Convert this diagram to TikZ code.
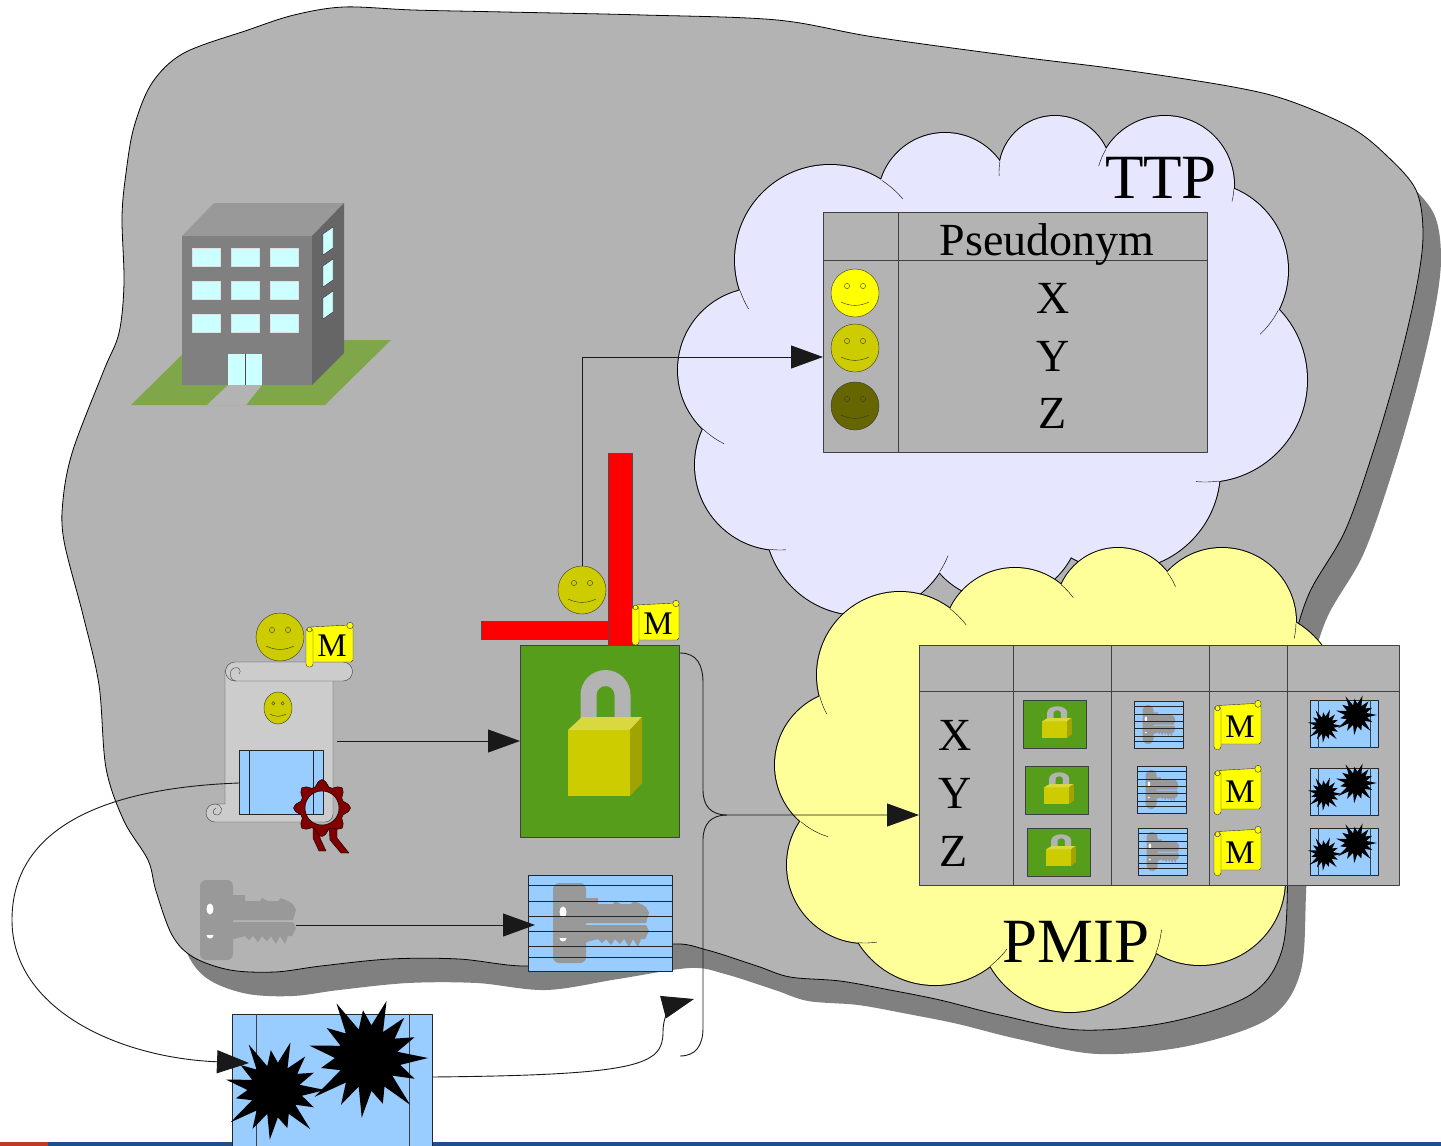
\documentclass[tikz,border=0pt]{standalone}
\usepackage{fontspec}
\setmainfont{Liberation Serif}
\usetikzlibrary{arrows.meta}

\definecolor{landgray}{HTML}{B3B3B3}
\definecolor{landshadow}{HTML}{808080}
\definecolor{ttpfill}{HTML}{E6E6FF}
\definecolor{pmipfill}{HTML}{FFFF99}
\definecolor{lockgreen}{HTML}{579D1C}
\definecolor{paleblue}{HTML}{99CCFF}
\definecolor{faceA}{HTML}{FFFF00}
\definecolor{faceB}{HTML}{CCCC00}
\definecolor{faceC}{HTML}{666600}
\definecolor{padfront}{HTML}{CCCC00}
\definecolor{padtop}{HTML}{D9D93F}
\definecolor{padside}{HTML}{A3A300}
\definecolor{keygray}{HTML}{999999}
\definecolor{paper}{HTML}{CCCCCC}
\definecolor{sealred}{HTML}{800000}
\definecolor{grass}{HTML}{7FA74A}
\definecolor{glass}{HTML}{CCFFFF}
\definecolor{roofgray}{HTML}{999999}
\definecolor{frontgray}{HTML}{808080}
\definecolor{sidegray}{HTML}{666666}
\definecolor{footblue}{HTML}{1F4E8A}
\definecolor{footred}{HTML}{C0392B}
\definecolor{rule}{HTML}{404040}

% outline of the grey land mass
\newcommand{\landpath}[1]{\path[#1] plot[smooth cycle, tension=0.55] coordinates {
 (152,83) (184,53) (248,30) (294,15) (344,7) (413,10) (505,12) (643,15) (777,20) (874,37)
 (1020,57) (1117,69) (1228,86) (1287,100) (1350,127) (1386,155) (1416,190) (1423,235)
 (1416,290) (1398,367) (1374,449) (1345,531) (1308,596) (1292,660) (1290,760) (1288,870)
 (1282,950) (1250,995) (1170,1022) (1080,1030) (1000,1015) (940,1000) (890,990) (840,981)
 (790,977) (757,966) (707,950) (672,944) (600,955) (528,966) (459,959) (390,959) (321,966)
 (275,972) (230,970) (193,957) (172,935) (156,891) (148,860) (124,821) (106,768) (99,685)
 (83,615) (64,541) (63,500) (73,450) (104,370) (119,333) (124,283) (122,217) (126,173) (134,127)};}

% smiling face: centre x, centre y, x radius, y radius, colour
\newcommand{\smileyface}[5]{%
 \begin{scope}[shift={(#1,#2)}, xscale=#3/24, yscale=#4/24]
  \draw[fill=#5, draw=black!80] (0,0) circle[radius=24];
  \draw[black!80] (-8,-7) circle[radius=2.6] (8,-7) circle[radius=2.6];
  \draw[black!80] (-14,9) .. controls (-5,13.5) and (5,13.5) .. (14,9);
 \end{scope}}

% yellow scroll flag with an M: left x, top y, vertical stretch
\newcommand{\mflag}[3]{%
 \begin{scope}[shift={(#1,#2)}, yscale=#3]
  \draw[fill=faceA, draw=black!80] (4,5) -- (44,3) -- (47,6) -- (47,38) -- (45,40) -- (6,40) -- cycle;
  \draw[fill=faceA, draw=black!80] (44,3.5) circle[radius=3.2];
  \draw[fill=faceA, draw=black!80, rounded corners=3] (0,6) rectangle (7,45);
  \draw[fill=faceA, draw=black!80] (3.5,7.5) circle[radius=2.4];
  \node[font=\fontsize{33}{33}\selectfont, anchor=base, inner sep=0pt] (mletter) at (26,34) {M};
 \end{scope}}

% black starburst: centre x, centre y, size
\newcommand{\burst}[3]{\fill[black, shift={(#1,#2)}, scale=#3]
 (0:1.0) -- (12:0.55) -- (24:0.85) -- (36:0.5) -- (48:1.05) -- (60:0.55) -- (72:0.8) -- (84:0.55)
 -- (96:1.0) -- (108:0.5) -- (120:0.9) -- (132:0.55) -- (144:1.1) -- (156:0.5) -- (168:0.8)
 -- (180:0.55) -- (192:1.0) -- (204:0.5) -- (216:0.85) -- (228:0.55) -- (240:1.05) -- (252:0.5)
 -- (264:0.8) -- (276:0.55) -- (288:1.0) -- (300:0.5) -- (312:0.9) -- (324:0.55) -- (336:0.85)
 -- (348:0.5) -- cycle;}

% green box with a padlock, 159 x 192
\newcommand{\lockart}{%
  \draw[fill=lockgreen, draw=rule] (0,0) rectangle (159,192);
  \fill[landgray] (60.5,80) -- (60.5,50) arc[start angle=180,end angle=360,radius=25]
     -- (110.5,80) -- (94.5,80) -- (94.5,50) arc[start angle=360,end angle=180,radius=9]
     -- (76.5,80) -- cycle;
  \fill[padfront] (48,85) rectangle (110,151);
  \fill[padtop] (48,85) -- (62,72) -- (122,72) -- (110,85) -- cycle;
  \fill[padside] (110,85) -- (122,72) -- (122,138) -- (110,151) -- cycle;}

% grey key, head corner at the origin
\newcommand{\keyart}{%
  \fill[keygray, rounded corners=6] (0,0) rectangle (33,80);
  \fill[keygray] (30,15) -- (45,15) -- (45,21) -- (60,21) -- (62,18) -- (68,21) -- (78,21)
     -- (81,18) -- (88,21) -- (93,24) -- (96,30) -- (93,40) -- (30,40) -- cycle;
  \fill[keygray] (30,42) -- (93,42) -- (96,48) -- (92,56) -- (88,56) -- (85,64) -- (80,56)
     -- (76,64) -- (71,56) -- (67,61) -- (62,56) -- (58,62) -- (53,56) -- (49,60) -- (45,56)
     -- (30,60) -- cycle;
  \fill[white] (10,29) ellipse[x radius=3.5, y radius=5.5];
  \fill[white] (6.5,55) -- (13.5,55) arc[start angle=0,end angle=180,radius=3.5] -- cycle;}

% ciphered key box, 144 x 96
\newcommand{\keyboxart}{%
  \fill[paleblue] (0,0) rectangle (144,96);
  \begin{scope}[shift={(25,8)}] \keyart \end{scope}
  \foreach \ly in {10,26,41,56,71,82} \draw[black!85] (0,\ly) -- (144,\ly);
  \draw[black!85] (0,0) rectangle (144,96);}

% blue document torn by bursts, 200 x 140
\newcommand{\brokenart}{%
  \draw[fill=paleblue, draw=black!85] (0,0) rectangle (200,140);
  \draw[rule] (24,0) -- (24,140) (177,0) -- (177,140);
  \burst{43}{76}{50}
  \burst{136}{44}{60}}

\begin{document}
\begin{tikzpicture}[x=1pt, y=-1pt, line join=round,
  conn/.style={draw=black!90, line width=0.9pt, -{Triangle[length=32pt,width=23pt]}},
  wire/.style={draw=black!90, line width=0.9pt},
  spot/.style={inner sep=0pt, outer sep=0pt},
  rulecol/.style={draw=rule, line width=1pt},
  bigtext/.style={font=\fontsize{63}{63}\selectfont, inner sep=0pt, anchor=base},
  celltext/.style={font=\fontsize{46}{46}\selectfont, inner sep=0pt, anchor=base}]
\useasboundingbox (0,0) rectangle (1441,1146);
\clip (0,0) rectangle (1441,1146);

% footer rule
\fill[footblue] (0,1142) rectangle (1441,1146);
\fill[footred] (0,1142) rectangle (48,1146);

% land mass with drop shadow
\landpath{fill=landshadow, shift={(18,24)}}
\landpath{fill=landgray, draw=black, line width=0.8pt}

% office building
\fill[grass] (131,405) -- (197,340) -- (391,340) -- (325,405) -- cycle;
\fill[landgray] (207,405) -- (228,385) -- (262,385) -- (246,405) -- cycle;
\fill[roofgray] (182,236) -- (214,203) -- (344,203) -- (312,236) -- cycle;
\fill[frontgray] (182,236) rectangle (312,385);
\fill[sidegray] (312,236) -- (344,203) -- (344,353) -- (312,385) -- cycle;
\foreach \wx in {192,231,270} \foreach \wy in {248,281,314}
  \draw[fill=glass, draw=black!12] (\wx,\wy) rectangle +(28,18);
\fill[glass] (228,354) rectangle (262,385);
\draw[black!70] (245,354) -- (245,385);
\foreach \sy in {0,32,64}
  \draw[fill=glass, draw=black!80] (323,234+\sy) -- (333,227+\sy) -- (333,248+\sy) -- (323,255+\sy) -- cycle;

% TTP cloud: lobes, body, inner curls
\foreach \cx/\cy/\r in {830/260/95, 945/200/67, 1055/172/56, 1165/185/69, 1200/270/88,
   1205/380/102, 1120/470/100, 1000/520/80, 860/520/95, 780/465/85, 760/370/82}
  \draw[fill=ttpfill, line width=2pt] (\cx,\cy) circle[radius=\r];
\foreach \cx/\cy/\r in {830/260/95, 945/200/67, 1055/172/56, 1165/185/69, 1200/270/88,
   1205/380/102, 1120/470/100, 1000/520/80, 860/520/95, 780/465/85, 760/370/82}
  \fill[ttpfill] (\cx,\cy) circle[radius=\r];
\fill[ttpfill] (990,360) ellipse[x radius=240, y radius=180];
\foreach \cx/\cy/\r/\ta/\tb in {830/260/95/-57/-40, 1055/172/56/191/176, 1165/185/69/211/196,
   1165/185/69/3/14, 1200/270/88/27/47, 1205/380/102/82/95, 860/520/95/33/22,
   780/465/85/97/86, 760/370/82/134/116, 830/260/95/161/149}
  \draw (\cx,\cy) ++(\ta:\r) arc[start angle=\ta, end angle=\tb, radius=\r];

% PMIP cloud: lobes, body, inner curls
\foreach \cx/\cy/\r in {900/675/83, 1015/640/72, 1118/610/62, 1222/622/74, 1250/700/90,
   1200/880/85, 1070/920/92, 935/895/90, 865/865/78, 850/765/75}
  \draw[fill=pmipfill, line width=2pt] (\cx,\cy) circle[radius=\r];
\foreach \cx/\cy/\r in {900/675/83, 1015/640/72, 1118/610/62, 1222/622/74, 1250/700/90,
   1200/880/85, 1070/920/92, 935/895/90, 865/865/78, 850/765/75}
  \fill[pmipfill] (\cx,\cy) circle[radius=\r];
\fill[pmipfill] (1080,780) ellipse[x radius=220, y radius=170];
\foreach \cx/\cy/\r/\ta/\tb in {900/675/83/-53/-37, 1015/640/72/-50/-36, 1118/610/62/-37/-22,
   1222/622/74/1/13, 900/675/83/165/152, 850/765/75/131/107, 865/865/78/95/81,
   935/895/90/52/37, 1070/920/92/21/6}
  \draw (\cx,\cy) ++(\ta:\r) arc[start angle=\ta, end angle=\tb, radius=\r];

% TTP pseudonym table
\node[spot, minimum width=384pt, minimum height=240pt] (ttptab) at (1015,332) {};
\draw[rulecol, fill=landgray] (ttptab.north west) rectangle (ttptab.south east);
\draw[rulecol] (898,212) -- (898,452) (823,260) -- (1207,260);
\node[celltext] (pseud) at (1047,255) {Pseudonym};
\node[celltext] (ttpx) at (1053,313) {X};
\node[celltext] (ttpy) at (1053,371) {Y};
\node[celltext] (ttpz) at (1053,428) {Z};
\smileyface{855}{293}{24}{24}{faceA}
\smileyface{855}{348}{24}{24}{faceB}
\smileyface{855}{406}{24}{24}{faceC}
\coordinate (ttpin) at (823,357);
\node[bigtext] (ttplabel) at (1161,198) {TTP};

% PMIP table
\node[spot, minimum width=480pt, minimum height=240pt] (pmiptab) at (1159,765) {};
\draw[rulecol, fill=landgray] (pmiptab.north west) rectangle (pmiptab.south east);
\draw[rulecol] (1013,645) -- (1013,885) (1111,645) -- (1111,885) (1209,645) -- (1209,885)
  (1287,645) -- (1287,885) (919,691) -- (1399,691);
\node[celltext] (pmx) at (955,750) {X};
\node[celltext] (pmy) at (955,808) {Y};
\node[celltext] (pmz) at (954,866) {Z};
\foreach \ox/\oy in {1023/700, 1025/766, 1027/828}
  {\begin{scope}[shift={(\ox,\oy)}, xscale=0.4, yscale=0.25] \lockart \end{scope}}
\foreach \ox/\oy in {1134/701, 1137/766, 1138/828}
  {\begin{scope}[shift={(\ox,\oy)}, xscale=0.34, yscale=0.49] \keyboxart \end{scope}}
\mflag{1214}{700}{1.1}
\mflag{1214}{765}{1.1}
\mflag{1214}{826}{1.1}
\foreach \ox/\oy in {1310/700, 1310/768, 1310/828}
  {\begin{scope}[shift={(\ox,\oy)}, scale=0.34] \brokenart \end{scope}}
\coordinate (pmipin) at (919,815);
\node[bigtext] (pmiplabel) at (1076,962) {PMIP};

% signed certificate scroll
\draw[fill=paper, draw=rule] (225,670) -- (333,670) -- (333,814) arc[start angle=0,end angle=90,radius=8]
  -- (215,822) arc[start angle=90,end angle=270,radius=9] -- (225,804) -- cycle;
\draw[rule] (215,804) .. controls (222,804) and (224,812) .. (218,815) .. controls (213,816) and (211,810) .. (216,808);
\draw[fill=paper, draw=rule] (235,662) -- (343,662) arc[start angle=270,end angle=450,radius=9.5]
  -- (235,681) arc[start angle=90,end angle=270,radius=9.5] -- cycle;
\draw[rule] (236,681) .. controls (229,680) and (228,671) .. (234,668) .. controls (239,666) and (242,671) .. (239,674);
\node[spot, minimum width=84pt, minimum height=64pt] (certwin) at (281,782) {};
\draw[fill=paleblue, draw=black!85] (certwin.north west) rectangle (certwin.south east);
\draw[black!85] (249,750) -- (249,814) (313,750) -- (313,814);
\smileyface{278}{708}{14}{16}{faceB}
\begin{scope}[shift={(322,808)}]
  \draw[fill=sealred, draw=black] (-9,18) -- (-1,18) -- (-2,30) -- (4,43) -- (-3,43) -- (-9,30) -- cycle;
  \draw[fill=sealred, draw=black] (7,18) -- (15,18) -- (15,30) -- (27,45) -- (19,45) -- (8,32) -- cycle;
  \draw[fill=sealred, draw=black, even odd rule]
    plot[smooth cycle, samples=40, domain=0:351] (\x:{25+3.5*cos(8*\x)}) (0,0) circle[radius=17];
\end{scope}
\smileyface{280}{637}{24}{24}{faceB}
\mflag{306}{622}{1}
\coordinate (certout) at (337,741);

% locked box with barrier
\node[spot, minimum width=159pt, minimum height=192pt] (lock) at (599.5,741) {};
\begin{scope}[shift={(lock.north west)}] \lockart \end{scope}
\draw[fill=red, draw=black!70] (481,621) rectangle (612,639);
\draw[fill=red, draw=black!70] (608,453) rectangle (632,645);
\mflag{632}{600}{1}
\node[spot, circle, minimum size=48pt] (face) at (582,590) {};
\smileyface{582}{590}{24}{24}{faceB}
\coordinate (lockcorner) at (680,653);

% key and ciphered key
\node[spot, minimum width=96pt, minimum height=80pt] (key) at (248,920) {};
\begin{scope}[shift={(200,880)}] \keyart \end{scope}
\node[spot, minimum width=144pt, minimum height=96pt] (keybox) at (600,923) {};
\begin{scope}[shift={(keybox.north west)}] \keyboxart \end{scope}

% torn document
\node[spot, minimum width=200pt, minimum height=140pt] (broken) at (332,1084) {};
\begin{scope}[shift={(broken.north west)}] \brokenart \end{scope}

% connectors
\coordinate (keyout) at (296,925);
\coordinate (keyin) at (535,925);
\coordinate (winout) at (239,783);
\coordinate (brokenin) at (249,1063);
\coordinate (brokenout) at (432,1077);
\coordinate (feedtip) at (694,999);
\coordinate (feedstart) at (680,1056);
\coordinate (merge) at (727,815);
\draw[conn] (certout) -- (lock.west);
\draw[conn] (keyout) -- (keyin);
\draw[conn] (face.north) |- (ttpin);
\draw[conn] (lockcorner) .. controls (697,653) and (703,665) .. (703,683) -- (703,790)
  .. controls (703,806) and (711,815) .. (merge) -- (pmipin);
\draw[wire] (feedstart) .. controls (696,1056) and (703,1045) .. (703,1028) -- (703,840)
  .. controls (703,824) and (711,815) .. (merge);
\draw[conn] (winout) .. controls (100,788) and (12,830) .. (12,920)
  .. controls (12,1010) and (120,1058) .. (brokenin);
\draw[conn] (brokenout) .. controls (640,1075) and (663,1065) .. (663,1032)
  .. controls (663,1012) and (675,1004) .. (feedtip);
\end{tikzpicture}
\end{document}
